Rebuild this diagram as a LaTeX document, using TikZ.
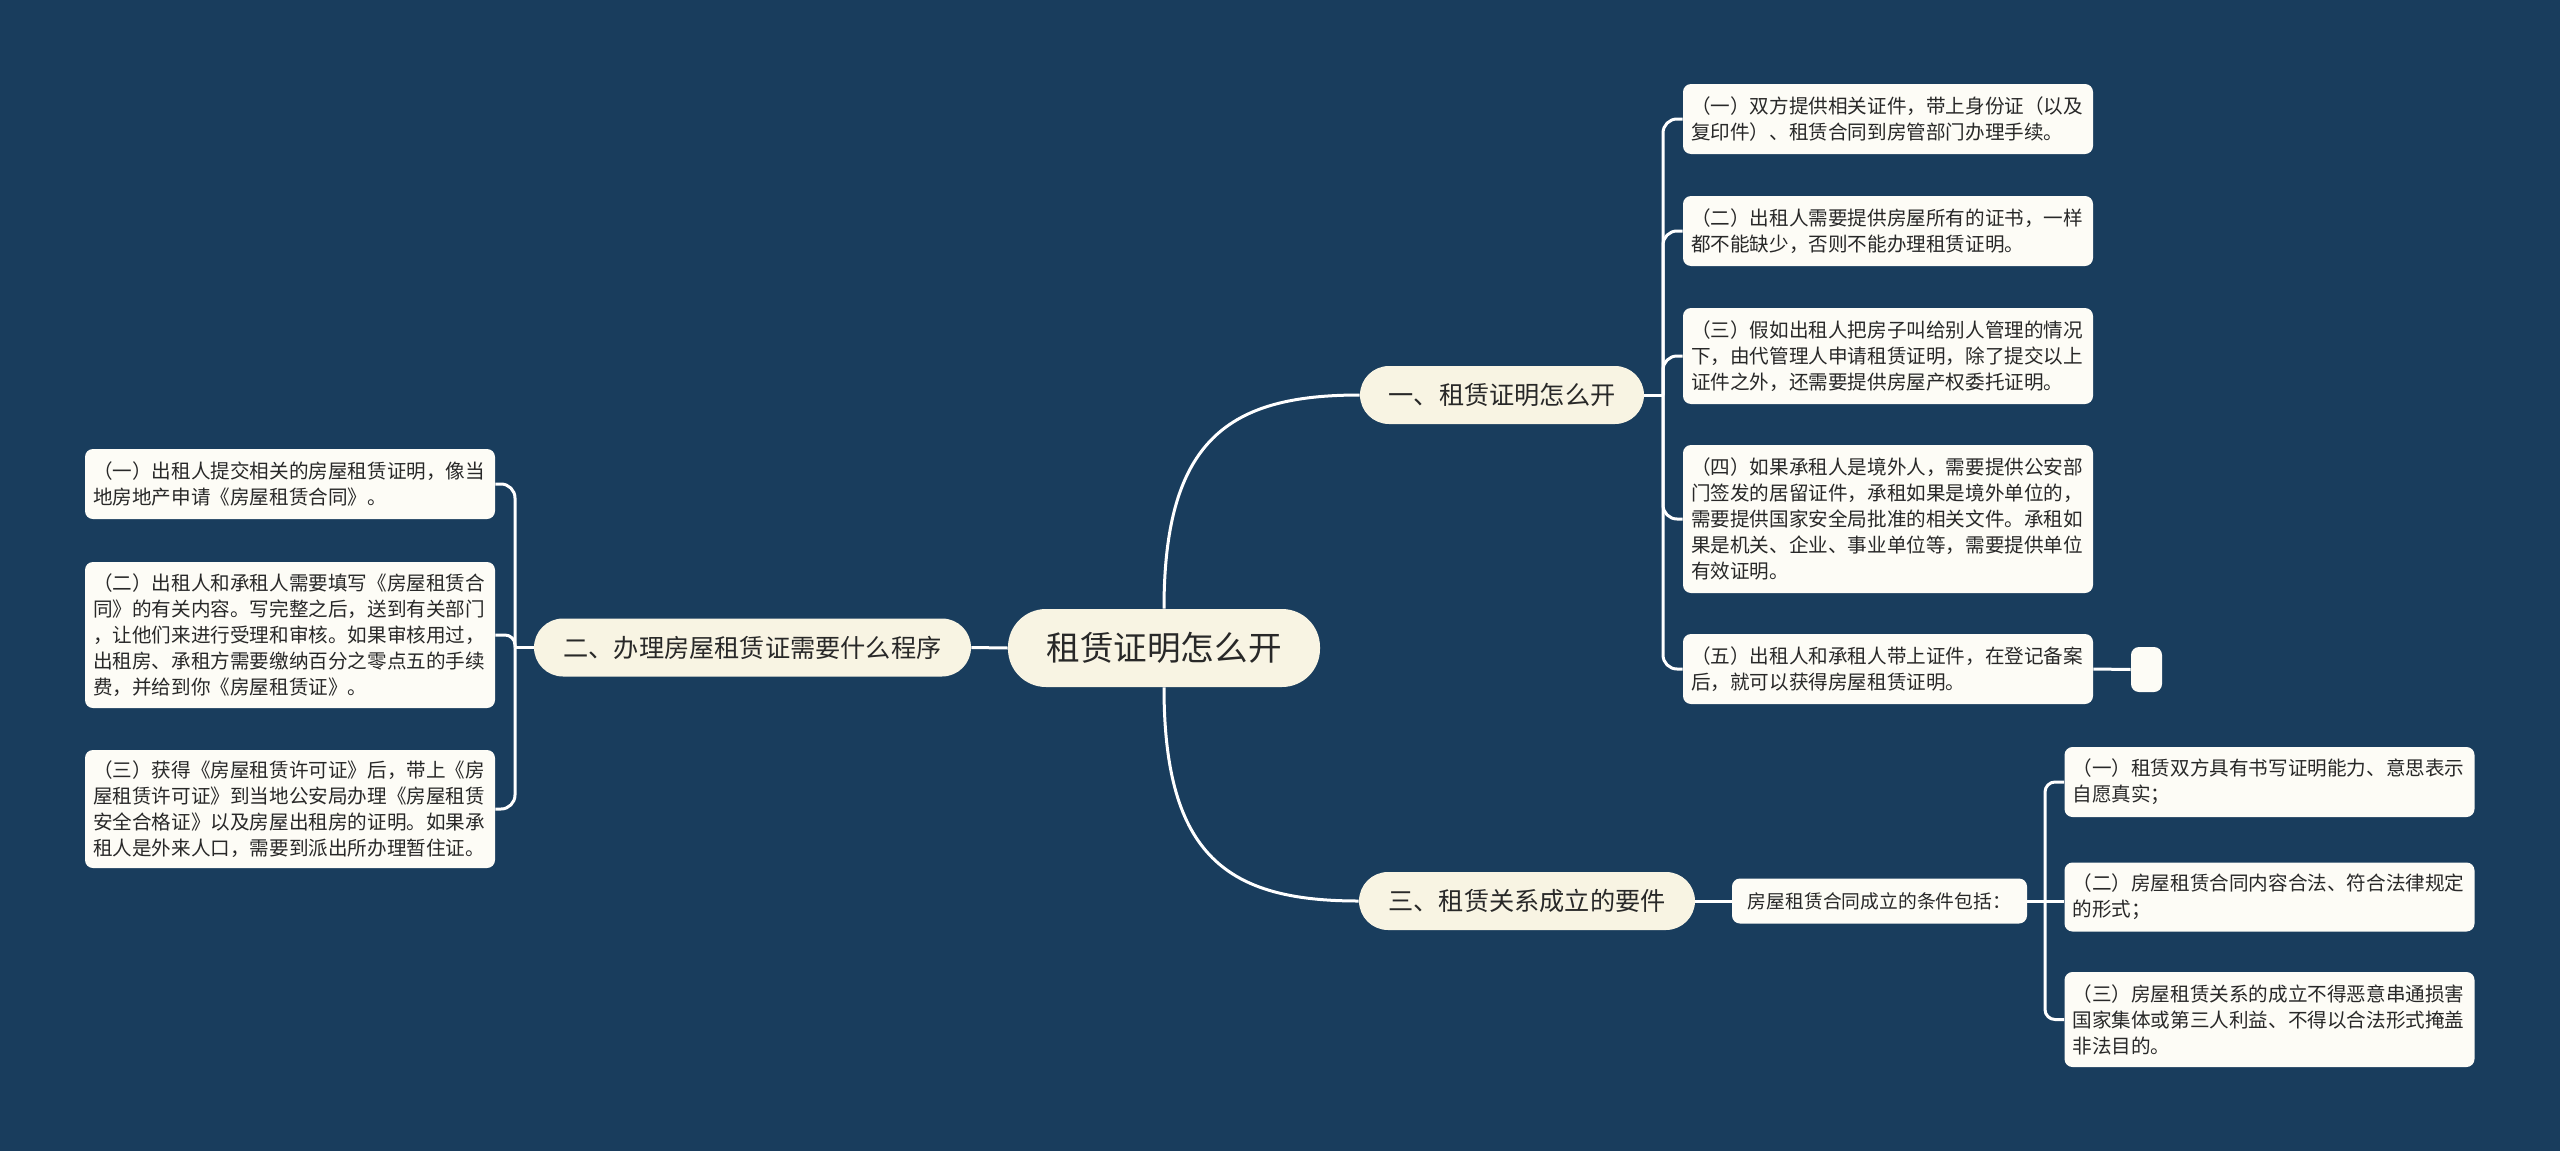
\documentclass[tikz,border=0pt]{standalone}
\usepackage{fontspec}
\setmainfont{Noto Sans CJK SC}
\definecolor{bg}{RGB}{25,61,93}
\definecolor{cream}{RGB}{248,244,227}
\definecolor{leafc}{RGB}{253,252,246}
\definecolor{txt}{RGB}{40,40,40}
\begin{document}
\begin{tikzpicture}[x=0.5pt,y=-0.5pt,
  conn/.style={draw=white, line width=1.5pt},
  rootbox/.style={fill=cream, rounded corners=19pt, minimum width=156pt, minimum height=39pt, inner sep=0pt, font=\fontsize{16.8}{20}\selectfont, text=txt},
  branchbox/.style={fill=cream, rounded corners=14.5pt, minimum height=29pt, inner sep=0pt, font=\fontsize{12.6}{15}\selectfont, text=txt},
  leafbox/.style={fill=leafc, rounded corners=4pt, text width=197pt, inner xsep=4pt, inner ysep=2pt, align=left, font=\fontsize{9.8}{13}\selectfont, text=txt},
  condbox/.style={fill=leafc, rounded corners=4pt, minimum width=147.5pt, minimum height=22.5pt, inner sep=0pt, font=\fontsize{9.4}{12}\selectfont, text=txt},
  emptybox/.style={fill=leafc, rounded corners=4pt, minimum width=15.5pt, minimum height=22.5pt, inner sep=0pt},
]
\fill[bg] (0,0) rectangle (2560,1151);
\useasboundingbox (0,0) rectangle (2560,1151);

% root and branches
\node[rootbox] (root) at (1164,648) {租赁证明怎么开};
\node[branchbox, minimum width=142pt] (B1) at (1502,395) {一、租赁证明怎么开};
\node[branchbox, minimum width=218.5pt] (B2) at (752.5,647.5) {二、办理房屋租赁证需要什么程序};
\node[branchbox, minimum width=168pt] (B3) at (1527,901) {三、租赁关系成立的要件};

% branch 1 leaves
\node[leafbox, minimum height=35pt] (R1) at (1888,119) {（一）双方提供相关证件，带上身份证（以及\\复印件）、租赁合同到房管部门办理手续。};
\node[leafbox, minimum height=35pt] (R2) at (1888,231) {（二）出租人需要提供房屋所有的证书，一样\\都不能缺少，否则不能办理租赁证明。};
\node[leafbox, minimum height=48pt] (R3) at (1888,356) {（三）假如出租人把房子叫给别人管理的情况\\下，由代管理人申请租赁证明，除了提交以上\\证件之外，还需要提供房屋产权委托证明。};
\node[leafbox, minimum height=74pt] (R4) at (1888,519) {（四）如果承租人是境外人，需要提供公安部\\门签发的居留证件，承租如果是境外单位的，\\需要提供国家安全局批准的相关文件。承租如\\果是机关、企业、事业单位等，需要提供单位\\有效证明。};
\node[leafbox, minimum height=35pt] (R5) at (1888,669) {（五）出租人和承租人带上证件，在登记备案\\后，就可以获得房屋租赁证明。};
\node[emptybox] (E) at (2146.5,669.5) {};

% branch 2 leaves
\node[leafbox, minimum height=35pt] (L1) at (290,484) {（一）出租人提交相关的房屋租赁证明，像当\\地房地产申请《房屋租赁合同》。};
\node[leafbox, minimum height=73pt] (L2) at (290,635) {（二）出租人和承租人需要填写《房屋租赁合\\同》的有关内容。写完整之后，送到有关部门\\，让他们来进行受理和审核。如果审核用过，\\出租房、承租方需要缴纳百分之零点五的手续\\费，并给到你《房屋租赁证》。};
\node[leafbox, minimum height=59pt] (L3) at (290,809) {（三）获得《房屋租赁许可证》后，带上《房\\屋租赁许可证》到当地公安局办理《房屋租赁\\安全合格证》以及房屋出租房的证明。如果承\\租人是外来人口，需要到派出所办理暂住证。};

% branch 3
\node[condbox] (C) at (1879.5,901) {房屋租赁合同成立的条件包括：};
\node[leafbox, minimum height=35pt] (S1) at (2269.5,782) {（一）租赁双方具有书写证明能力、意思表示\\自愿真实；};
\node[leafbox, minimum height=34.5pt] (S2) at (2269.5,897) {（二）房屋租赁合同内容合法、符合法律规定\\的形式；};
\node[leafbox, minimum height=47.5pt] (S3) at (2269.5,1019.5) {（三）房屋租赁关系的成立不得恶意串通损害\\国家集体或第三人利益、不得以合法形式掩盖\\非法目的。};

% junctions
\coordinate (J1) at (1663,395);
\coordinate (J2) at (515,647.5);
\coordinate (J3) at (2045,901);

% root connectors
\draw[conn] (root.north) .. controls +(0,-170) and +(-130,0) .. (B1.west);
\draw[conn] (root.south) .. controls +(0,170) and +(-130,0) .. (B3.west);
\draw[conn] (root.west) -- (B2.east);

% branch 1 connectors
\draw[conn] (B1.east) -- (J1);
\draw[conn, rounded corners=7pt] (J1) |- (R1.west);
\draw[conn, rounded corners=7pt] (J1) |- (R2.west);
\draw[conn, rounded corners=7pt] (J1) |- (R3.west);
\draw[conn, rounded corners=7pt] (J1) |- (R4.west);
\draw[conn, rounded corners=7pt] (J1) |- (R5.west);
\draw[conn] (R5.east) -- (E.west);

% branch 2 connectors
\draw[conn] (B2.west) -- (J2);
\draw[conn, rounded corners=7pt] (J2) |- (L1.east);
\draw[conn, rounded corners=5pt] (J2) |- (L2.east);
\draw[conn, rounded corners=7pt] (J2) |- (L3.east);

% branch 3 connectors
\draw[conn] (B3.east) -- (C.west);
\draw[conn] (C.east) -- (J3);
\draw[conn, rounded corners=5pt] (J3) |- (S1.west);
\draw[conn] (J3) -- (J3 -| S2.west);
\draw[conn, rounded corners=5pt] (J3) |- (S3.west);
\end{tikzpicture}
\end{document}
